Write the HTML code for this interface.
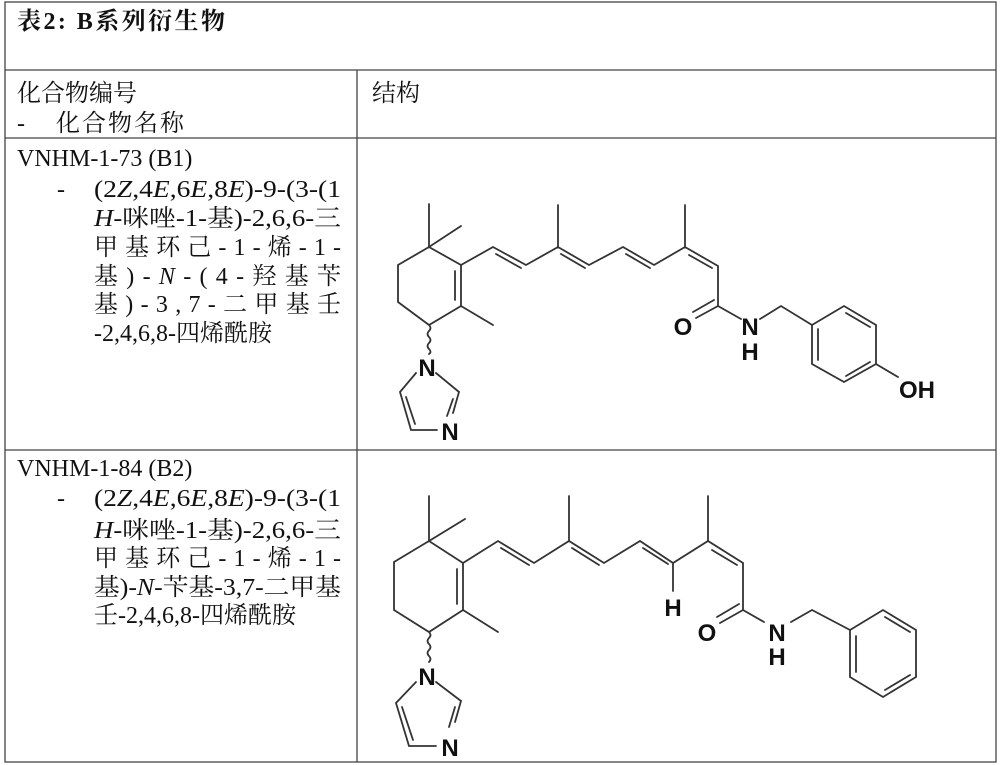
<!DOCTYPE html>
<html><head><meta charset="utf-8"><style>
html,body{margin:0;padding:0;background:#fff;}
svg{display:block;}
.t{font-family:"Liberation Serif","Noto Serif CJK SC","Noto Sans CJK SC",serif;font-size:24px;fill:#111;}
.b{stroke:#333;stroke-width:1.8;fill:none;stroke-linecap:round;}
.l{font-family:"Liberation Sans",sans-serif;font-weight:bold;font-size:24px;fill:#111;text-anchor:middle;}
</style></head><body>
<svg width="1000" height="765" viewBox="0 0 1000 765" xmlns="http://www.w3.org/2000/svg">
<g stroke="#444" stroke-width="1.3" fill="none">
<rect x="5" y="2" width="991" height="760"/>
<line x1="5" y1="70" x2="996" y2="70"/>
<line x1="5" y1="138" x2="996" y2="138"/>
<line x1="5" y1="450" x2="996" y2="450"/>
<line x1="357" y1="70" x2="357" y2="762"/>
</g>
<text class="t" x="17" y="29" font-weight="bold" textLength="208" lengthAdjust="spacing">表2:  B系列衍生物</text>
<text class="t" x="17" y="101">化合物编号</text>
<text class="t" x="17" y="131">-</text>
<text class="t" x="56" y="131" textLength="128" lengthAdjust="spacing">化合物名称</text>
<text class="t" x="372" y="101">结构</text>

<text class="t" x="17" y="166">VNHM-1-73 (B1)</text>
<text class="t" x="57" y="197">-</text>
<text class="t" x="94" y="197" textLength="247" lengthAdjust="spacingAndGlyphs">(2<tspan font-style="italic">Z</tspan>,4<tspan font-style="italic">E</tspan>,6<tspan font-style="italic">E</tspan>,8<tspan font-style="italic">E</tspan>)-9-(3-(1</text>
<text class="t" x="94" y="226" textLength="247" lengthAdjust="spacingAndGlyphs"><tspan font-style="italic">H</tspan>-咪唑-1-基)-2,6,6-三</text>
<text class="t" x="94" y="255" textLength="247" lengthAdjust="spacing">甲基环己-1-烯-1-</text>
<text class="t" x="94" y="284" textLength="247" lengthAdjust="spacing">基)-<tspan font-style="italic">N</tspan>-(4-羟基苄</text>
<text class="t" x="94" y="312" textLength="247" lengthAdjust="spacing">基)-3,7-二甲基壬</text>
<text class="t" x="94" y="341">-2,4,6,8-四烯酰胺</text>

<text class="t" x="17" y="476">VNHM-1-84 (B2)</text>
<text class="t" x="57" y="506">-</text>
<text class="t" x="94" y="506" textLength="247" lengthAdjust="spacingAndGlyphs">(2<tspan font-style="italic">Z</tspan>,4<tspan font-style="italic">E</tspan>,6<tspan font-style="italic">E</tspan>,8<tspan font-style="italic">E</tspan>)-9-(3-(1</text>
<text class="t" x="94" y="538" textLength="247" lengthAdjust="spacingAndGlyphs"><tspan font-style="italic">H</tspan>-咪唑-1-基)-2,6,6-三</text>
<text class="t" x="94" y="566" textLength="247" lengthAdjust="spacing">甲基环己-1-烯-1-</text>
<text class="t" x="94" y="595" textLength="247" lengthAdjust="spacingAndGlyphs">基)-<tspan font-style="italic">N</tspan>-苄基-3,7-二甲基</text>
<text class="t" x="94" y="623">壬-2,4,6,8-四烯酰胺</text>

<!-- Structure 1 -->
<g class="b">
<polyline points="429,204 429,247 461,226"/>
<polygon points="429,247 398,265 398,302 429,325 461,306 461,265"/>
<line x1="455" y1="271" x2="455" y2="300"/>
<line x1="461" y1="306" x2="493" y2="325"/>
<path d="M429,325 q3,3 0,6 q-3,3 0,6 q3,3 0,6 q-3,3 0,6 q3,3 0,5"/>
<polyline points="436,373 459,392 453,413"/>
<polyline points="416,373 400,392 411,430 437,430"/>
<line x1="406" y1="397" x2="415" y2="424"/>
<line x1="453" y1="399" x2="447" y2="416"/>
<polyline points="461,265 493,247 526,265 558,247 589,265 623,247 654,265 685,247 718,266 718,306 741,319"/>
<line x1="558" y1="247" x2="558" y2="205"/>
<line x1="685" y1="247" x2="685" y2="205"/>
<line x1="496" y1="254" x2="521" y2="268"/>
<line x1="561" y1="254" x2="585" y2="268"/>
<line x1="626" y1="254" x2="650" y2="268"/>
<line x1="689" y1="255" x2="712" y2="268"/>
<line x1="718" y1="306" x2="696" y2="318"/>
<line x1="714" y1="300" x2="693" y2="312"/>
<polyline points="760,319 781,306 812,325"/>
<polygon points="812,325 844,306 876,325 876,364 844,382 812,364"/>
<line x1="818" y1="329" x2="818" y2="360"/>
<line x1="846" y1="313" x2="870" y2="327"/>
<line x1="870" y1="362" x2="846" y2="376"/>
<line x1="876" y1="364" x2="898" y2="377"/>
</g>
<text class="l" x="427" y="376">N</text>
<text class="l" x="450" y="440">N</text>
<text class="l" x="683" y="335">O</text>
<text class="l" x="750" y="335">N</text>
<text class="l" x="750" y="360">H</text>
<text class="l" x="917" y="398">OH</text>

<!-- Structure 2 -->
<g class="b">
<polyline points="429,496 429,541 465,519"/>
<polygon points="429,541 394,562 394,610 429,632 463,610 463,563"/>
<line x1="457" y1="569" x2="457" y2="604"/>
<line x1="463" y1="610" x2="498" y2="632"/>
<path d="M429,632 q3,3 0,6 q-3,3 0,6 q3,3 0,6 q-3,3 0,6 q3,3 0,6"/>
<polyline points="436,682 461,701 455,722"/>
<polyline points="416,682 396,703 409,746 436,746"/>
<line x1="402" y1="707" x2="413" y2="740"/>
<line x1="455" y1="707" x2="449" y2="727"/>
<polyline points="463,563 498,541 534,563 569,541 604,563 640,541 673,563 708,541 743,563 743,610 764,622"/>
<line x1="569" y1="541" x2="569" y2="496"/>
<line x1="708" y1="541" x2="708" y2="496"/>
<line x1="673" y1="563" x2="673" y2="591"/>
<line x1="501" y1="548" x2="529" y2="565"/>
<line x1="572" y1="548" x2="599" y2="565"/>
<line x1="643" y1="548" x2="668" y2="564"/>
<line x1="712" y1="550" x2="737" y2="565"/>
<line x1="743" y1="610" x2="720" y2="623"/>
<line x1="739" y1="604" x2="717" y2="617"/>
<polyline points="791,622 812,610 850,630"/>
<polygon points="850,630 883,610 916,630 916,677 883,697 850,677"/>
<line x1="856" y1="636" x2="856" y2="672"/>
<line x1="885" y1="617" x2="910" y2="632"/>
<line x1="910" y1="675" x2="885" y2="690"/>
</g>
<text class="l" x="427" y="685">N</text>
<text class="l" x="450" y="756">N</text>
<text class="l" x="673" y="616">H</text>
<text class="l" x="707" y="641">O</text>
<text class="l" x="777" y="641">N</text>
<text class="l" x="777" y="665">H</text>
</svg>
</body></html>
